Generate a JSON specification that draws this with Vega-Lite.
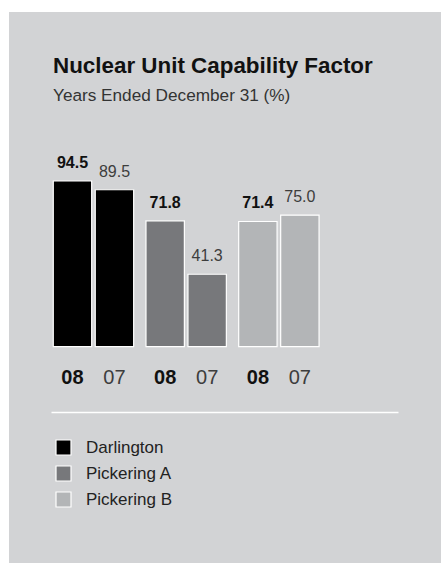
{
  "$schema": "https://vega.github.io/schema/vega-lite/v6.json",
  "width": 432,
  "height": 551,
  "autosize": {"type": "none"},
  "padding": {"left": 9, "top": 12, "right": 0, "bottom": 0},
  "background": "#ffffff",
  "title": {
    "text": "Nuclear Unit Capability Factor",
    "subtitle": "Years Ended December 31 (%)",
    "anchor": "start",
    "frame": "group",
    "orient": "top",
    "offset": -92,
    "dx": 44,
    "font": "Liberation Sans",
    "fontSize": 22.4,
    "fontWeight": "bold",
    "color": "#111111",
    "subtitleFont": "Liberation Sans",
    "subtitleFontSize": 17.2,
    "subtitleColor": "#333333",
    "subtitlePadding": 9
  },
  "data": {
    "values": [
      {"plant": "Darlington", "year": "08", "value": 94.5},
      {"plant": "Darlington", "year": "07", "value": 89.5},
      {"plant": "Pickering A", "year": "08", "value": 71.8},
      {"plant": "Pickering A", "year": "07", "value": 41.3},
      {"plant": "Pickering B", "year": "08", "value": 71.4},
      {"plant": "Pickering B", "year": "07", "value": 75.0}
    ]
  },
  "encoding": {
    "x": {
      "field": "plant",
      "type": "nominal",
      "scale": {
        "type": "band",
        "domain": ["Darlington", "Pickering A", "Pickering B"],
        "range": [42, 389],
        "paddingInner": 0.133,
        "paddingOuter": 0.438,
        "align": 0.028
      },
      "axis": {
        "title": null,
        "labels": false,
        "ticks": false,
        "grid": false,
        "domainColor": "#ffffff",
        "domainWidth": 1.5,
        "offset": -151
      }
    },
    "xOffset": {
      "field": "year",
      "type": "nominal",
      "sort": ["08", "07"],
      "scale": {"domain": ["08", "07"], "paddingInner": 0.0857, "paddingOuter": 0}
    }
  },
  "layer": [
    {
      "mark": {"type": "bar", "stroke": "#ffffff", "strokeWidth": 1.2},
      "encoding": {
        "y": {
          "field": "value",
          "type": "quantitative",
          "scale": {"domain": [-123.4, 190.9], "nice": false, "zero": false},
          "axis": null
        },
        "y2": {"datum": 0},
        "color": {
          "field": "plant",
          "type": "nominal",
          "scale": {
            "domain": ["Darlington", "Pickering A", "Pickering B"],
            "range": ["#000000", "#77787b", "#b3b5b7"]
          },
          "legend": {
            "orient": "none",
            "legendX": 46,
            "legendY": 427,
            "direction": "vertical",
            "title": null,
            "padding": 0,
            "labelFont": "Liberation Sans",
            "labelFontSize": 17,
            "labelColor": "#222222",
            "labelOffset": 14,
            "symbolType": "square",
            "symbolSize": 225,
            "symbolStrokeColor": "#ffffff",
            "symbolStrokeWidth": 1.2,
            "symbolOpacity": 1,
            "rowPadding": 5
          }
        }
      }
    },
    {
      "transform": [{"filter": "datum.year === '08'"}],
      "mark": {"type": "text", "fontSize": 16, "fontWeight": "bold", "baseline": "alphabetic", "dy": -13, "color": "#111111"},
      "encoding": {
        "y": {"field": "value", "type": "quantitative"},
        "text": {"field": "value", "type": "quantitative", "format": ".1f"}
      }
    },
    {
      "transform": [{"filter": "datum.year === '07'"}],
      "mark": {"type": "text", "fontSize": 16, "fontWeight": "normal", "baseline": "alphabetic", "dy": -13, "color": "#3d3d3d"},
      "encoding": {
        "y": {"field": "value", "type": "quantitative"},
        "text": {"field": "value", "type": "quantitative", "format": ".1f"}
      }
    },
    {
      "transform": [{"filter": "datum.year === '08'"}],
      "mark": {"type": "text", "fontSize": 20, "fontWeight": "bold", "baseline": "alphabetic", "dy": 37, "color": "#111111"},
      "encoding": {
        "y": {"datum": 0, "type": "quantitative"},
        "text": {"field": "year", "type": "nominal"}
      }
    },
    {
      "transform": [{"filter": "datum.year === '07'"}],
      "mark": {"type": "text", "fontSize": 20, "fontWeight": "normal", "baseline": "alphabetic", "dy": 37, "color": "#3d3d3d"},
      "encoding": {
        "y": {"datum": 0, "type": "quantitative"},
        "text": {"field": "year", "type": "nominal"}
      }
    }
  ],
  "config": {
    "font": "Liberation Sans",
    "view": {"fill": "#d2d3d5", "stroke": null}
  }
}
